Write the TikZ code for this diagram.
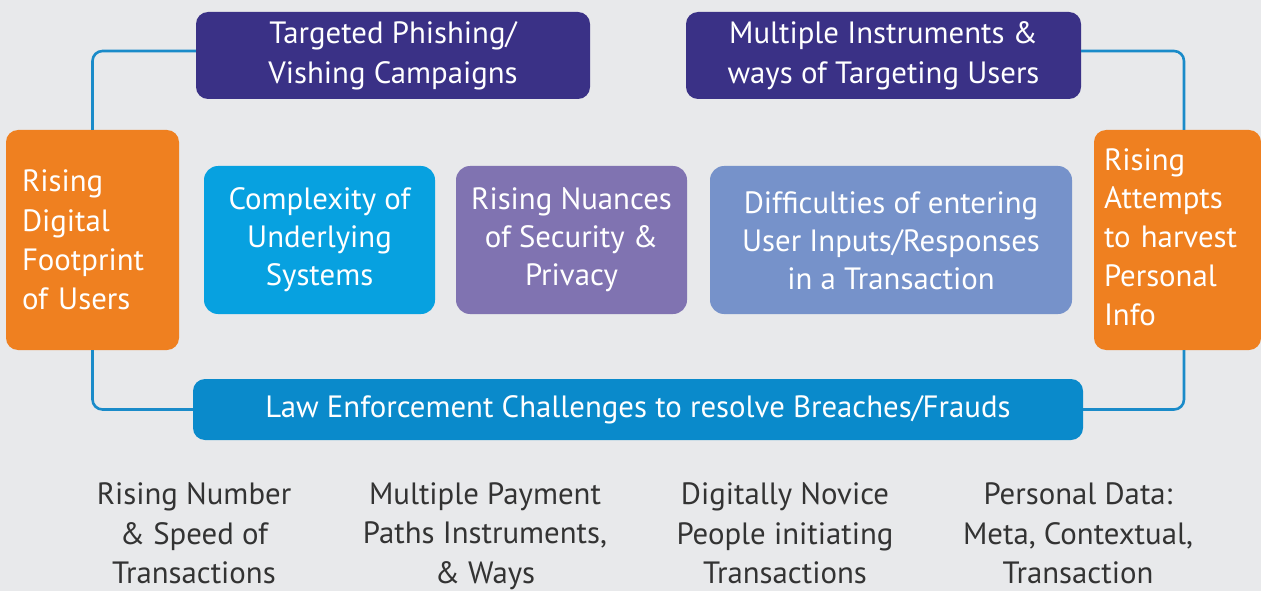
\documentclass[tikz,border=0pt]{standalone}
\usepackage{fontspec}
\setmainfont{PT Sans}
\definecolor{bg}{HTML}{E8E9EB}
\definecolor{navy}{HTML}{3A3186}
\definecolor{orng}{HTML}{EF8020}
\definecolor{cyanb}{HTML}{07A1E0}
\definecolor{lilac}{HTML}{8073B1}
\definecolor{steel}{HTML}{7692CA}
\definecolor{lawb}{HTML}{0A8ACB}
\definecolor{linec}{HTML}{1A8BC9}
\definecolor{txt}{HTML}{333333}
\newcommand{\lastdp}{\rule[-6pt]{0pt}{0pt}}
\begin{document}
\begin{tikzpicture}[x=1pt,y=-1pt,
  box/.style={rounded corners=12pt, inner sep=0pt, text=white, align=center,
    font=\fontsize{30.8}{40}\selectfont},
  midbox/.style={box, minimum width=231pt, minimum height=148pt, rounded corners=14pt,
    font=\fontsize{30.8}{38}\selectfont},
  sidebox/.style={box, fill=orng, align=left, minimum height=220pt},
  conn/.style={draw=linec, line width=2.6pt, rounded corners=10pt},
  caption/.style={text=txt, align=center, font=\fontsize{30.8}{39.5}\selectfont}]
\useasboundingbox[fill=bg] (0,0) rectangle (1261,591);
\node[box, fill=navy, minimum width=394pt, minimum height=87pt] (phish) at (393,55.5) {\strut Targeted Phishing/\\Vishing Campaigns\strut};
\node[box, fill=navy, minimum width=395pt, minimum height=87pt] (multi) at (883.5,55.5) {\strut Multiple Instruments \&\\ways of Targeting Users\strut};
\node[sidebox, inner xsep=16pt, text width=141pt, font=\fontsize{30.8}{39.3}\selectfont] (lorange) at (92.5,240) {\rule{0pt}{33.5pt}Rising\\Digital\\Footprint\\of Users\strut};
\node[sidebox, inner xsep=10pt, text width=147pt, font=\fontsize{30.8}{38.8}\selectfont] (rorange) at (1177.5,240) {\strut Rising\\Attempts\\to harvest\\Personal\\Info\strut};
\node[midbox, fill=cyanb] (cplx) at (319.5,240) {\strut Complexity of\\Underlying\\Systems\strut};
\node[midbox, fill=lilac] (nuance) at (571.5,240) {\strut Rising Nuances\\of Security \&\\Privacy\strut};
\node[midbox, fill=steel, minimum width=362pt] (diff) at (891,240) {\rule{0pt}{34.6pt}Difficulties of entering\\User Inputs/Responses\\in a Transaction\strut};
\node[box, fill=lawb, minimum width=890pt, minimum height=61pt] (law) at (638,409.5) {\strut Law Enforcement Challenges to resolve Breaches/Frauds};
\draw[conn] ([yshift=4.5pt]phish.west) -| (lorange.north);
\draw[conn] (lorange.south) |- (law.west);
\draw[conn] ([yshift=4.5pt]multi.east) -| ([xshift=6.5pt]rorange.north);
\draw[conn] ([xshift=6.5pt]rorange.south) |- (law.east);
\node[caption] (c1) at (194,533.2) {\strut Rising Number\\\& Speed of\\Transactions\lastdp};
\node[caption] (c2) at (485,533.2) {\strut Multiple Payment\\Paths Instruments,\\\& Ways\lastdp};
\node[caption] (c3) at (785,533.2) {\strut Digitally Novice\\People initiating\\Transactions\lastdp};
\node[caption] (c4) at (1078,533.2) {\strut Personal Data:\\Meta, Contextual,\\Transaction\lastdp};
\end{tikzpicture}
\end{document}
